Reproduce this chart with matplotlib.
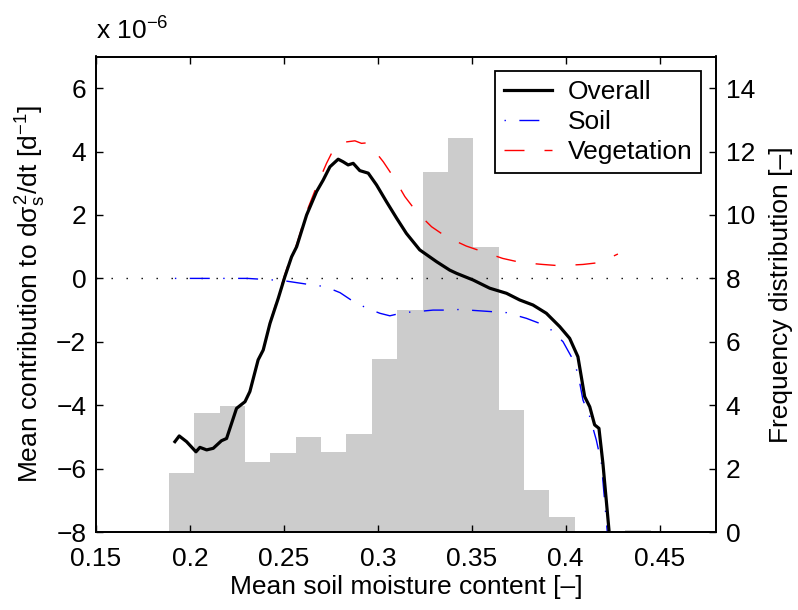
import matplotlib
matplotlib.use("Agg")
import matplotlib.pyplot as plt

plt.rcParams['font.family'] = ['Liberation Sans', 'DejaVu Sans']
plt.rcParams['mathtext.fontset'] = 'custom'
plt.rcParams['mathtext.rm'] = 'Liberation Sans'
plt.rcParams['mathtext.it'] = 'Liberation Sans'
plt.rcParams['mathtext.bf'] = 'Liberation Sans:bold'
plt.rcParams['lines.scale_dashes'] = False

# Histogram (frequency distribution, right axis)
hist_left = [0.1888, 0.2023, 0.2158, 0.2293, 0.2428, 0.2563, 0.2698, 0.2833, 0.2968,
             0.3103, 0.3238, 0.3373, 0.3508, 0.3643, 0.3778, 0.3913, 0.4048, 0.4183, 0.4318]
hist_freq = [1.87, 3.74, 3.98, 2.22, 2.50, 3.00, 2.52, 3.09, 5.46,
             7.00, 11.36, 12.42, 8.99, 3.85, 1.32, 0.48, 0.0, 0.0, 0.06]
bin_width = 0.0135

# Overall contribution (x1e-6)
overall_x = [0.192, 0.1943, 0.1982, 0.2032, 0.2053, 0.2089, 0.2124, 0.2168, 0.2195, 0.2248,
             0.2293, 0.2319, 0.2363, 0.239, 0.2426, 0.247, 0.2505, 0.2541, 0.2568, 0.2621,
             0.2674, 0.2709, 0.2745, 0.2789, 0.2815, 0.2842, 0.2869, 0.2904, 0.2949, 0.2993,
             0.3046, 0.31, 0.3152, 0.3223, 0.3312, 0.3383, 0.3419, 0.3507, 0.3596, 0.3685,
             0.3755, 0.3826, 0.3897, 0.3968, 0.4021, 0.4065, 0.4083, 0.4101, 0.4128, 0.4154,
             0.4177, 0.4198, 0.4232]
overall_y = [-5.15, -4.97, -5.15, -5.47, -5.33, -5.41, -5.36, -5.12, -5.05, -4.10,
             -3.89, -3.57, -2.57, -2.26, -1.42, -0.63, 0.05, 0.68, 1.00, 2.00,
             2.74, 3.10, 3.52, 3.76, 3.68, 3.58, 3.63, 3.40, 3.32, 2.95,
             2.42, 1.90, 1.42, 0.90, 0.53, 0.26, 0.16, -0.05, -0.31, -0.47,
             -0.68, -0.84, -1.10, -1.52, -1.89, -2.47, -3.10, -3.73, -4.05, -4.62,
             -4.73, -5.83, -8.05]

# Soil contribution
soil_x = [0.192, 0.2, 0.21, 0.22, 0.2305, 0.239, 0.2496, 0.262, 0.272, 0.2799, 0.287,
          0.2942, 0.3011, 0.3064, 0.3135, 0.3241, 0.3294, 0.3365, 0.3436, 0.356, 0.3685,
          0.3791, 0.3862, 0.3924, 0.3986, 0.403, 0.4065, 0.4092, 0.4128, 0.4163, 0.419, 0.4222]
soil_y = [0.0, 0.0, 0.0, 0.0, 0.0, -0.03, -0.07, -0.18, -0.26, -0.45, -0.73,
          -0.94, -1.10, -1.18, -1.08, -1.03, -1.00, -1.00, -0.98, -1.03, -1.08,
          -1.26, -1.42, -1.63, -2.00, -2.47, -2.99, -3.84, -4.36, -5.10, -5.83, -8.05]

# Vegetation contribution
veg_x = [0.2426, 0.247, 0.2505, 0.2541, 0.2568, 0.2621, 0.2674, 0.2727, 0.2771, 0.2825,
         0.2878, 0.2913, 0.2949, 0.3029, 0.3082, 0.3144, 0.3206, 0.3286, 0.3365, 0.3471,
         0.356, 0.3665, 0.3763, 0.3878, 0.3968, 0.4092, 0.4181, 0.4278]
veg_y = [-1.39, -0.56, 0.12, 0.75, 1.07, 2.10, 2.90, 3.63, 4.15, 4.30,
         4.34, 4.26, 4.28, 3.68, 3.21, 2.58, 2.10, 1.63, 1.31, 1.02,
         0.84, 0.63, 0.50, 0.44, 0.40, 0.44, 0.50, 0.77]

fs = 19
fig = plt.figure(figsize=(7.98, 6.10), dpi=100)
axh = fig.add_axes([96/798, (610-532)/610, (716-96)/798, (532-56.5)/610])
axl = axh.twinx()
# swap sides: histogram on right, curves on left
axh.yaxis.tick_right()
axh.yaxis.set_label_position('right')
axl.yaxis.tick_left()
axl.yaxis.set_label_position('left')

axh.bar(hist_left, hist_freq, width=bin_width, align='edge', color='#cccccc',
        edgecolor='none', linewidth=0)
axh.set_ylim(0, 15)
axh.set_yticks(range(0, 15, 2))
axh.set_xlim(0.15, 0.48)
axh.set_xticks([0.15, 0.2, 0.25, 0.3, 0.35, 0.4, 0.45])
axh.set_xticklabels(['0.15', '0.2', '0.25', '0.3', '0.35', '0.4', '0.45'])

axl.axhline(0, color='black', linewidth=1.0, linestyle=(0, (1.0, 9.8)))
axl.plot(soil_x, soil_y, color='blue', linewidth=1.0,
         linestyle=(0, (1.0, 9.7, 14.4, 9.7)), label='Soil')
axl.plot(veg_x, veg_y, color='red', linewidth=1.0,
         linestyle=(0, (14.4, 14.4)), label='Vegetation')
axl.plot(overall_x, overall_y, color='black', linewidth=2.3, label='Overall')
axl.set_ylim(-8, 7)
axl.set_yticks(range(-8, 7, 2))
axl.set_xlim(0.15, 0.48)

for a in (axh, axl):
    a.tick_params(direction='in', length=5, width=1.0, labelsize=fs, pad=7)
    for s in a.spines.values():
        s.set_linewidth(1.3)
axh.tick_params(axis='x', top=True, pad=11)

axh.set_xlabel('Mean soil moisture content [\u2013]', fontsize=fs, labelpad=3)
axh.set_ylabel('Frequency distribution [\u2013]', fontsize=fs, labelpad=10)
axl.set_ylabel(r'Mean contribution to d$\sigma_{s}^{2}$/dt [d$^{-1}$]', fontsize=fs, labelpad=6)
axl.text(0.0, 1.025, r'x 10$^{-6}$', transform=axl.transAxes, fontsize=fs,
         ha='left', va='bottom')

handles, labels = axl.get_legend_handles_labels()
order = [2, 0, 1]
leg = axl.legend([handles[i] for i in order], [labels[i] for i in order],
                 loc='upper right', fontsize=fs, fancybox=False, framealpha=1,
                 edgecolor='black', handlelength=1.8, borderaxespad=0.55,
                 labelspacing=0.22, handletextpad=0.6, borderpad=0.35)
leg.get_frame().set_linewidth(1.3)

fig.savefig('out.png', dpi=100)
